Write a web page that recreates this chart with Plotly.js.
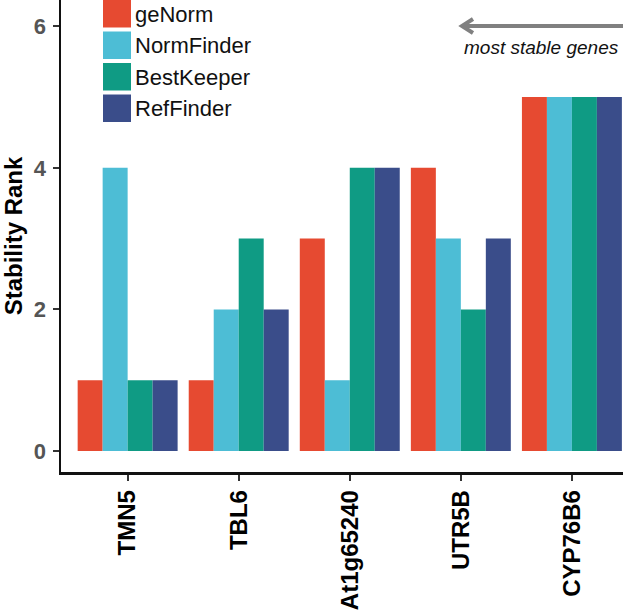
<!DOCTYPE html>
<html>
<head>
<meta charset="utf-8">
<script src="https://cdn.plot.ly/plotly-3.0.1.min.js"></script>
<style>
  html, body { margin: 0; padding: 0; background: #fff; }
  #chart { width: 623px; height: 611px; }
</style>
</head>
<body>
<div id="chart"></div>
<script>
// reference genes, ranked by each algorithm (1 = most stable)
const genes = ["TMN5", "TBL6", "At1g65240", "UTR5B", "CYP76B6"];
const methods = ["geNorm", "NormFinder", "BestKeeper", "RefFinder"];
const genorm = [1, 1, 3, 4, 5];
const normfinder = [4, 2, 1, 3, 5];
const bestkeeper = [1, 3, 4, 2, 5];
const reffinder = [1, 2, 4, 3, 5];
const yticks = [0, 2, 4, 6];
const colors = ["#E64A31", "#4DBDD5", "#0F9B84", "#3A4D8A"];

const FONT = "Liberation Sans, Arial, sans-serif";
const W = 623, H = 611;
const M = {l: 61, r: 0, t: 0, b: 139};

var series = [genorm, normfinder, bestkeeper, reffinder];
var data = series.map((vals, i) => ({
  type: "bar",
  name: methods[i],
  x: genes,
  y: vals,
  marker: {color: colors[i], line: {width: 0}},
  showlegend: false
}));

// legend drawn by hand so the colour keys can be big squares
var shapes = [], annotations = [];
var pw = W - M.l - M.r, ph = H - M.t - M.b;
function px(x) { return (x - M.l) / pw; }
function py(y) { return 1 - (y - M.t) / ph; }
methods.forEach((m, i) => {
  var top = i * 31.5;
  shapes.push({
    type: "rect", xref: "paper", yref: "paper",
    x0: px(103), x1: px(131), y0: py(top + 27.5), y1: py(top),
    fillcolor: colors[i], line: {width: 0}
  });
  annotations.push({
    xref: "paper", yref: "paper", x: px(133), y: py(top + 14.5),
    xanchor: "left", yanchor: "middle", showarrow: false,
    text: m, font: {family: FONT, size: 22, color: "#111"}
  });
});

// "most stable genes" arrow
shapes.push({
  type: "line", xref: "paper", yref: "paper",
  x0: px(624), x1: px(463), y0: py(26), y1: py(26),
  line: {color: "#808080", width: 4}
});
shapes.push({
  type: "path", xref: "paper", yref: "paper",
  path: "M " + px(473) + " " + py(19) + " L " + px(462) + " " + py(26) + " L " + px(473) + " " + py(33),
  line: {color: "#808080", width: 4}
});
annotations.push({
  xref: "paper", yref: "paper", x: px(541), y: py(48),
  xanchor: "center", yanchor: "middle", showarrow: false,
  text: "<i>most stable genes</i>",
  font: {family: FONT, size: 19, color: "#111"}
});

var layout = {
  width: W, height: H,
  margin: M,
  paper_bgcolor: "#fff", plot_bgcolor: "#fff",
  barmode: "group",
  bargap: 0.1, bargroupgap: 0,
  font: {family: FONT},
  xaxis: {
    type: "category",
    range: [-0.6, 4.46],
    tickvals: genes,
    ticktext: genes.map(g => "<b>" + g + "</b>"),
    showgrid: false, zeroline: false,
    showline: true, linecolor: "#111", linewidth: 2.5,
    ticks: "outside", ticklen: 6, tickwidth: 2, tickcolor: "#333",
    tickangle: -90,
    tickfont: {family: FONT, size: 24, color: "#000"}
  },
  yaxis: {
    range: [-0.296, 6.37],
    tickvals: yticks,
    ticktext: yticks.map(v => "<b>" + v + "</b>"),
    showgrid: false, zeroline: false,
    showline: true, linecolor: "#111", linewidth: 2.5,
    ticks: "outside", ticklen: 6, tickwidth: 2, tickcolor: "#333",
    ticklabelstandoff: 2,
    tickfont: {family: FONT, size: 22, color: "#555"},
    title: {text: "<b>Stability Rank</b>", standoff: 10,
            font: {family: FONT, size: 24, color: "#000"}}
  },
  shapes: shapes,
  annotations: annotations
};

Plotly.newPlot("chart", data, layout, {displayModeBar: false, staticPlot: true});
</script>
</body>
</html>
